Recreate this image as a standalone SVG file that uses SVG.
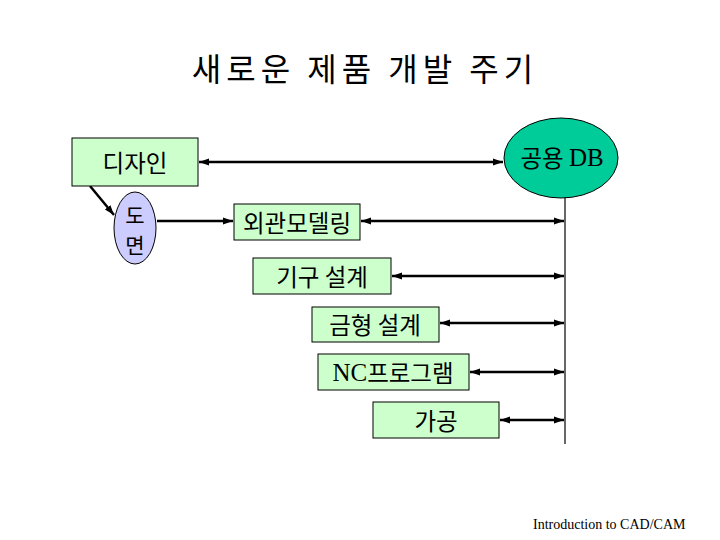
<svg xmlns="http://www.w3.org/2000/svg" width="720" height="540" viewBox="0 0 720 540">
<style>
.box{fill:#ccffcc;stroke:#000;stroke-width:1}
.k{font-family:"Noto Sans CJK KR","Noto Sans",sans-serif;font-size:23.5px;fill:#000;text-anchor:middle;dominant-baseline:central}
.s{font-family:"Liberation Serif",serif}
.ln{stroke:#000;stroke-width:2.5;fill:none}
</style>
<defs>
<marker id="ah" viewBox="0 0 10 10" refX="10" refY="5" markerWidth="4" markerHeight="4" orient="auto-start-reverse">
<path d="M0,1.5 L10,5 L0,8.5 Z" fill="#000"/>
</marker>
</defs>
<rect width="720" height="540" fill="#fff"/>
<text x="365" y="67" style="font-family:'Noto Sans CJK KR',sans-serif;font-size:32px;letter-spacing:5px;text-anchor:middle;dominant-baseline:central">새로운 제품 개발 주기</text>

<g id="connectors">
<line class="ln" x1="199" y1="162" x2="503" y2="162" marker-start="url(#ah)" marker-end="url(#ah)"/>
<line class="ln" x1="90" y1="186" x2="114" y2="215" marker-end="url(#ah)"/>
<line class="ln" x1="157" y1="221" x2="233" y2="221" marker-end="url(#ah)"/>
<line x1="565" y1="197" x2="565" y2="444" stroke="#000" stroke-width="1.2"/>
<line class="ln" x1="361" y1="221" x2="564" y2="221" marker-start="url(#ah)" marker-end="url(#ah)"/>
<line class="ln" x1="392" y1="276" x2="564" y2="276" marker-start="url(#ah)" marker-end="url(#ah)"/>
<line class="ln" x1="440" y1="323" x2="564" y2="323" marker-start="url(#ah)" marker-end="url(#ah)"/>
<line class="ln" x1="470" y1="372" x2="564" y2="372" marker-start="url(#ah)" marker-end="url(#ah)"/>
<line class="ln" x1="500" y1="420" x2="564" y2="420" marker-start="url(#ah)" marker-end="url(#ah)"/>
</g>

<g id="design">
<rect class="box" x="72" y="138" width="126" height="48"/>
<text class="k" x="135" y="162">디자인</text>
</g>
<g id="db">
<ellipse cx="561" cy="158" rx="57" ry="40" fill="#00cc99" stroke="#000" stroke-width="1"/>
<text class="k" x="562" y="157">공용 <tspan class="s" style="font-size:25px">DB</tspan></text>
</g>
<g id="drawing">
<ellipse cx="135" cy="228" rx="21" ry="36" fill="#ccccff" stroke="#000" stroke-width="1"/>
<text class="k" x="135" y="214" style="font-size:21px">도</text>
<text class="k" x="135" y="244" style="font-size:21px">면</text>
</g>
<g id="modeling">
<rect class="box" x="234" y="204" width="126" height="36"/>
<text class="k" x="297" y="222">외관모델링</text>
</g>
<g id="mech">
<rect class="box" x="253" y="258" width="138" height="36"/>
<text class="k" x="322" y="276">기구 설계</text>
</g>
<g id="mold">
<rect class="box" x="312" y="307" width="127" height="35"/>
<text class="k" x="375" y="324">금형 설계</text>
</g>
<g id="nc">
<rect class="box" x="318" y="354" width="151" height="36"/>
<text class="k" x="393" y="372"><tspan class="s" style="font-size:25px">NC</tspan>프로그램</text>
</g>
<g id="machining">
<rect class="box" x="373" y="402" width="126" height="36"/>
<text class="k" x="436" y="420">가공</text>
</g>
<text x="533" y="529" style="font-family:'Liberation Serif',serif;font-size:14px">Introduction to CAD/CAM</text>
</svg>
